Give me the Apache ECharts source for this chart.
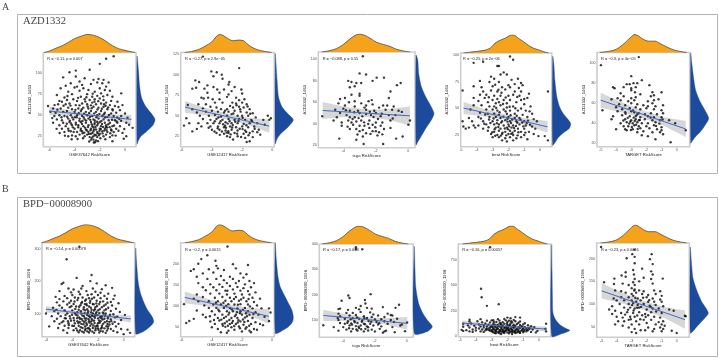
<!DOCTYPE html>
<html><head><meta charset="utf-8">
<script src="https://cdn.jsdelivr.net/npm/echarts@6/dist/echarts.min.js"></script>
<style>html,body{margin:0;padding:0;background:#fff}#c{width:719px;height:358px;filter:blur(.35px)}</style>
</head><body><div id="c"></div>
<script>
// ---------- marginal densities of the risk score, one per cohort
const gse37642TopX=[-6.4,-6,-5.5,-5,-4.5,-4,-3.5,-3,-2.5,-2,-1.5,-1,-.5,0,.5,.8];
const gse37642TopD=[0,.08,.23,.37,.56,.77,.9,1,.96,.83,.62,.38,.21,.12,.04,0];
const gse12417TopX=[-5.8,-5.35,-4.9,-4.46,-4,-3.7,-3.47,-3.25,-2.9,-2.6,-2.25,-1.9,-1.6,-1.26,-.93,-.49,-.04];
const gse12417TopD=[0,.06,.16,.35,.59,.9,1,.94,.75,.65,.69,.65,.43,.25,.14,.06,0];
const tcgaTopX=[-5.33,-4.82,-4.41,-4,-3.59,-3.28,-3.02,-2.67,-2.36,-1.95,-1.54,-1.13,-.72,-.31,.1];
const tcgaTopD=[0,.08,.19,.42,.73,.92,1,.92,.77,.54,.42,.31,.15,.06,0];
const beatTopX=[-4.84,-4.31,-3.89,-3.47,-3.15,-2.84,-2.52,-2.21,-1.89,-1.68,-1.37,-1.05,-.74,-.42,-.11,.21,.53];
const beatTopD=[0,.06,.1,.16,.27,.55,.71,.82,.98,1,.82,.63,.43,.27,.18,.08,0];
const targetTopX=[-5.07,-4.52,-4.07,-3.74,-3.41,-3.08,-2.75,-2.53,-2.2,-1.87,-1.43,-1.1,-.66,-.22,.22,.66];
const targetTopD=[0,.06,.15,.31,.54,.81,1,.92,.73,.63,.63,.5,.31,.15,.06,0];
// ---------- marginal densities of drug sensitivity
const a1RightY=[119.8,103.9,88,76,68,60,52,45,38,30,24.5,18.5,15.7];
const a1RightD=[0,.08,.13,.2,.3,.5,.8,1,.88,.5,.2,.05,0];
const a2RightY=[125.5,113.4,93,72.7,60.5,52.4,45,36,28,21.9,15.8];
const a2RightD=[0,.04,.1,.18,.38,.7,1,.7,.3,.1,0];
const a3RightY=[104,99.4,86.9,74.4,65.1,57.3,49.5,43.3,35.5,27.7,23,20];
const a3RightD=[0,.1,.15,.3,.54,.8,1,.85,.54,.27,.1,0];
const a4RightY=[99,92.7,77,61,51.7,45.4,40.6,35.9,31.2,28,23.3,18.5,15.4];
const a4RightD=[0,.06,.12,.23,.38,.58,.81,1,.92,.67,.35,.15,0];
const a5RightY=[110,100,86.6,73.3,63.3,55,45,38.3,31.6,26.6,21.6,20];
const a5RightD=[0,.06,.15,.27,.48,.73,1,.81,.54,.27,.06,0];
const b1RightY=[303,266.6,235,193.7,162.4,131,110,89.5,74,58,42.6,37.4];
const b1RightD=[0,.04,.08,.15,.27,.48,.67,.92,1,.77,.38,0];
const b2RightY=[250,210,170.5,146.7,123,107,91,75,63,51,39.5,35.5];
const b2RightD=[0,.06,.15,.27,.54,.73,.92,1,.96,.73,.29,0];
const b3RightY=[389.3,297,231.4,165.6,126,100,73.5,53.7,47];
const b3RightD=[0,.04,.08,.24,.48,.72,1,.7,0];
const b4RightY=[897,653,392,229,163,114.5,82,59,26,2];
const b4RightD=[0,.02,.04,.07,.22,.46,.74,1,.55,0];
const b5RightY=[225,194,157,128,106,80,65.4,50.7,39.7,36];
const b5RightD=[0,.06,.15,.38,.62,1,.72,.38,.15,0];
// ---------- fitted lines and their confidence bands
const a1BandX=[-6,-4.5,-3,-1.5,.5], a1Fit=[55,52.8,50.5,48.2,45], a1Lo=[50,49.8,48.3,45.2,39.5], a1Hi=[60,55.8,52.7,51.2,50.5];
const a2BandX=[-5.78,-4.4,-3,-1.6,-.2], a2Fit=[60.5,54.8,49,43.2,37.3], a2Lo=[53.5,50.3,45.5,38.7,29.3], a2Hi=[67.5,59.3,52.5,47.7,45.3];
const a3BandX=[-5.27,-4,-2.6,-1.2,.1], a3Fit=[52.3,51.1,49.8,48.5,47.3], a3Lo=[44.3,46.1,46.3,43.5,38.3], a3Hi=[60.3,56.1,53.3,53.5,56.3];
const a4BandX=[-4.84,-3.5,-2.2,-.9,.48], a4Fit=[50.4,46,41.8,37.5,32.7], a4Lo=[44.7,42.5,39.3,34.3,27.2], a4Hi=[56.1,49.5,44.3,40.7,38.2];
const a5BandX=[-5.02,-3.6,-2.2,-.8,.6], a5Fit=[63,55.8,48.7,41.5,34.3], a5Lo=[55.5,50.8,44.9,37,26.3], a5Hi=[70.5,60.8,52.5,46,42.3];
const b1BandX=[-6.05,-4.4,-2.75,-1.1,.55], b1Fit=[113.5,106,98.4,90.9,83.3], b1Lo=[103.5,99,92.9,83.9,72.3], b1Hi=[123.5,113,103.9,97.9,94.3];
const b2BandX=[-5.8,-4.4,-3,-1.6,-.2], b2Fit=[121,109.7,98.5,87.2,76], b2Lo=[107,100.7,91.5,78.2,59], b2Hi=[135,118.7,105.5,96.2,93];
const b3BandX=[-5.26,-3.9,-2.6,-1.3,.04], b3Fit=[118,110,102.3,94.5,86.6], b3Lo=[96,96,92.3,81.5,61.6], b3Hi=[140,124,112.3,107.5,111.6];
const b4BandX=[-4.85,-3.5,-2.2,-.85,.49], b4Fit=[131,116,101.5,87,72], b4Lo=[106,99,88.5,71,47], b4Hi=[156,133,114.5,103,97];
const b5BandX=[-5,-3.6,-2.2,-.85,.55], b5Fit=[129,113,97,81.6,65.5], b5Lo=[112,101,87,69.6,45.5], b5Hi=[146,125,107,93.6,85.5];
// ---------- scatter points
const a1Pts=[[-.9,120],[-1.5,117],[-2,111],[-3.9,103],[-4.4,101],[-2.8,104],[-4.9,95],[-3.2,94],[-3.9,96],[-2.5,92],[-2.1,93],[-1.7,92],[-1.3,89],[-2.2,89],[-1.8,88],[-3.6,90],[-4.3,88],[-4.7,85],[-3.4,86],[-2.7,87],[-1.5,84],[-5.1,82],[-4,83],[-3.8,84],[-3.3,82],[-2.9,80],[-2,82],[-1.6,80],[-1.2,79],[-4.5,78],[-3.6,79],[-2.4,78],[-5.4,74],[-.3,76],[-4.2,75],[-3,75],[-1.9,76],[-3.5,72],[-4.8,71],[-2.2,73],[-2.6,72],[-1.4,74],[-1,72],
[-5.2,67],[-5,66],[-4.6,68],[-4.1,69],[-3.8,67],[-3.2,69],[-2.8,68],[-2.4,69],[-2,70],[-1.7,68],[-1.1,67],[-.6,66],[-5.3,63],[-4.7,63],[-4.4,64],[-3.9,62],[-3.4,64],[-3,63],[-2.6,65],[-2.3,63],[-1.9,64],[-1.5,65],[-1.2,62],[-.8,61],[-.2,62],[-6.1,61],[-5.7,58],[-5.1,58],[-4.5,59],[-4.2,57],[-3.7,58],[-3.3,59],[-2.9,58],[-2.5,60],[-2.1,59],[-1.7,60],[-1.4,57],[-1,57],[-.4,56],[-5.9,54],[-5.5,53],[-4.9,54],[-4.6,55],[-4,54],[-3.5,55],[-3.1,54],[-2.7,55],[-2.3,54],[-1.9,55],[-1.6,53],[-1.1,52],[-.7,53],[0,52],[-5.6,49],[-5.2,50],[-4.8,49],[-4.3,50],[-3.8,50],[-3.4,49],[-3,50],[-2.6,49],[-2.2,50],[-1.8,49],[-1.4,48],[-.9,49],[-.3,49],[.2,47],[-5.4,45],[-5,44],[-4.5,46],[-4.1,45],[-3.6,46],[-3.2,45],[-2.9,46],[-2.5,45],[-2.1,46],[-1.7,45],[-1.3,44],[-.8,44],[-5.7,41],[-4.9,41],[-4.4,42],[-3.9,41],[-3.5,42],[-3.1,41],[-2.7,42],[-2.4,41],[-2,42],[-1.6,41],[-1.2,41],[-.6,41],[.1,41],[-5.2,38],[-4.7,37],[-4.2,38],[-3.7,38],[-3.3,37],[-2.9,38],[-2.6,37],[-2.2,38],[-1.9,37],[-1.5,38],[-1,37],[-.4,37],[-5,34],[-4.5,34],[-4,34],[-3.5,34],[-3.1,33],[-2.7,34],[-2.3,33],[-2,34],[-1.6,34],[-1.1,33],[-.7,34],[-4.8,30],[-4.3,31],[-3.8,30],[-3.4,31],[-2.9,30],[-2.5,31],[-2.2,30],[-1.8,31],[-1.4,30],[-.9,30],[.6,35],[-3.6,27],[-3,27],[-2.7,28],[-2.4,27],[-2,28],[-1.5,27],[-1,26],[-.2,29],[-4.5,25],[-4.2,26],[-3.9,25],[-3.2,25],[-2.8,24],[-2.5,25],[-2.2,24],[-1.7,25],[-1.2,24],[-2.7,21],[-2.5,21],[-2.3,20],[-.1,22],[-1,19],[.1,25],
[-3.83,47.6],[-3.62,43.5],[-3.41,39.7],[-3.27,47.2],[-3.08,43.6],[-2.93,35.9],[-2.78,47.8],[-2.64,39.4],[-2.51,35.6],[-2.39,43.7],[-2.27,47.5],[-2.13,40.3],[-2.02,31.6],[-1.87,43.2],[-1.74,36.1],[-1.58,47.4],[-1.46,32.3],[-1.33,39.2],[-3.71,35.7],[-3.52,31.8],[-3.36,28.6],[-3.17,35.3],[-3.02,31.9],[-2.86,27.8],[-2.73,32.2],[-2.58,28.9],[-2.46,33],[-2.34,36],[-2.17,28.6],[-2.07,26.2],[-1.92,33.7],[-1.78,28.4],[-1.63,31.7],[-1.51,36],[-1.22,35.8],[-1.08,31.8],[-.87,37.7],[-.68,42.6],[-4.13,35.6],[-4.28,40.2],[-4.07,30.2],[-4.62,39.8],[-4.37,43.6],[-3.97,47.7],[-4.18,47.4],[-4.58,48.2],[-3.66,52.4],[-3.24,51.7],[-2.84,52.6],[-2.44,52.2],[-2.03,51.6],[-1.68,51.2],[-1.27,50.4],[-.62,47.4],[-3.93,56.4],[-3.42,57.1],[-2.96,60.4],[-2.64,58.3],[-2.18,56.8],[-1.83,57.6],[-1.54,61.2],[-4.32,61.4],[-3.61,61.7],[-3.14,66.2],[-2.7,61.7],[-2.42,66.1],[-2.12,66.7],[-1.66,63],[-1.34,59.3],[-3.72,70.6],[-2.56,75.6],[-1.73,72.4],[-4.56,72.9],[-3.06,71.3],[-2.31,26.2],[-2.62,23.2],[-1.95,22.7],[-3.33,22.6],[-3.76,21.8],[-4.23,21.4],[-1.56,21.5],[-2.14,19.2],[-2.84,18.8],[-2.47,17.6],[-2.38,17.9],[-4.76,25.7],[-5.42,33.8],[-5.18,28.9],[-.52,31.6],[-.06,33.7],[-.31,43.4],[.32,38.6],[-.74,25.8],[-5.77,46.6],[-5.03,47.6],[-5.36,56.6],[-1.03,44.6],[-1.43,35.4],[-2.22,42.2],[-2.76,44.5],[-3.37,43.2],[-3.89,38.9],[-4.47,31.6],[-3.22,29.3],[-2.42,39.1],[-1.83,39.6],[-1.17,28.6],[-.46,45.8],[-.97,55.7],[-5.58,62],[-4.87,61.2],[-.52,59.7]];
const a2Pts=[[-4.6,122],[-2.2,108],[-4.04,104],[-3.68,103],[-3.35,100],[-5.1,93],[-4.85,91],[-5.3,83],[-5.05,84],[-2.85,91],[-2.9,88],[-3.9,98],[-3.3,95],[-4.3,87],[-4.5,83],[-3.9,85],[-3.65,82],[-3.2,82],[-2.5,85],[-2.05,82],[-2.7,80],[-2,77],[-4.3,78],[-3.5,78],[-2.9,76],[-4.7,72],[-4.55,71],[-4.25,72],[-3.95,70],[-3.5,70],[-3,73],[-2.4,72],[-2.2,69],[-1.85,70],[-5.6,63],[-4.9,64],[-4.4,64],[-3.8,66],[-3.3,66],[-2.65,66],[-2.4,65],[-2,66],[-1.7,64],[-2.8,62],[-5.3,58],[-4.6,59],[-4.1,61],[-3.7,60],[-3.4,58],[-3,58],[-2.6,60],[-2.2,61],[-1.9,60],[-1.5,58],[-5,54],[-4.4,55],[-4,56],[-3.6,55],[-3.2,54],[-2.9,55],[-2.5,56],[-2.1,55],[-1.7,54],[-1.3,53],[-.3,50],[-5.7,47],[-4.8,50],[-4.2,50],[-3.8,51],[-3.4,49],[-3,50],[-2.7,52],[-2.3,50],[-2,50],[-1.6,50],[-1.1,48],[-.1,47],[-5.5,41],[-4.6,46],[-4.1,45],[-3.7,46],[-3.3,45],[-2.9,46],[-2.5,45],[-2.2,46],[-1.8,45],[-1.4,45],[-.6,45],[-.2,45],[-5.85,38],[-4.9,41],[-4.3,41],[-3.9,41],[-3.5,41],[-3.1,42],[-2.7,41],[-2.3,41],[-1.9,40],[-1.5,41],[-1,41],[-.5,39],[-5.3,31],[-5,34],[-4.7,37],[-4.1,37],[-3.6,37],[-3.2,36],[-2.8,37],[-2.4,36],[-2,37],[-1.6,36],[-1.2,37],[-4,33],[-3.5,33],[-3.1,32],[-2.7,33],[-2.3,32],[-1.8,32],[-1.3,31],[-.9,33],[-3.7,29],[-3.2,28],[-2.9,29],[-2.5,29],[-1.9,28],[-1.5,29],[-1,30],[-3,25],[-2.8,24],[-2.3,25],[-1.8,23],[-1.3,24],[-.8,27],[-2.6,21],[-1.7,18],[-1.5,19],
[-3.43,43.4],[-3.26,39.6],[-3.07,35.3],[-2.96,40.4],[-2.83,43.3],[-2.62,38.6],[-2.46,42.7],[-3.81,43.2],[-3.62,34.7],[-3.34,30.8],[-3.13,37.9],[-2.92,31.2],[-2.76,27.3],[-2.33,28.2],[-2.16,34.2],[-1.97,47.6],[-1.72,38.4],[-1.34,43.2],[-1.73,30.3],[-1.17,34.2],[-4.22,35.4],[-3.83,30.8],[-3.48,26.7],[-2.58,52.8],[-2.13,57.9],[-2.37,62.8],[-1.64,61.2],[-1.47,52.4],[-3.13,56.2],[-3.57,47.9],[-2.24,43.7],[-2.66,35.6],[-3.03,29.4],[-1.58,26.3],[-1.97,33.7],[-2.07,24.2]];
const a3Pts=[[-2.8,103],[-3,87],[-2.6,86],[-3.7,80],[-3.5,79],[-3.2,78],[-2.9,78],[-3.3,75],[-3.6,74],[-1.95,83],[-1.5,83],[-2.2,80],[-.7,76],[-.47,78],[-1.1,70],[-1.2,64],[-4.2,63],[-3.9,64],[-3.5,67],[-3,68],[-3,66],[-3.65,60],[-3.3,61],[-2.25,62],[-2.45,61],[-1.55,57],[-4.3,59],[-3.9,57],[-3.3,56],[-2.9,59],[-2.6,57],[-2.2,58],[-1.8,55],[-1.3,57],[-.9,56],[-.6,52],[-4.5,53],[-4,54],[-3.6,52],[-3.1,52],[-2.7,55],[-2.6,53],[-2.1,52],[-1.4,53],[-1,53],[-.4,51],[-5.3,47],[-4.6,43],[-4.2,50],[-3.8,48],[-3.6,46],[-3.3,46],[-3,50],[-2.6,49],[-2.3,48],[-2,50],[-1.7,47],[-1.2,48],[-.8,48],[.1,43],[0,39],[-4.4,46],[-4.1,41],[-3.7,43],[-3.5,41],[-3.2,42],[-2.9,43],[-2.4,43],[-2,41],[-1.6,41],[-1.1,43],[-4.1,38],[-3.4,39],[-3,38],[-2.7,38],[-2.2,39],[-1.7,38],[-3.6,35],[-3.2,35],[-2.8,34],[-2.4,36],[-2,33],[-1.5,35],[-1.1,36],[-3,33],[-2.6,31],[-2.2,33],[-1.8,32],[-2.8,28],[-1.9,29],[-1.6,30],[-4.25,26],[-2.75,21],[-1.55,21],[-.75,26],[-.35,28],[-3.2,25],
[-3.74,37.2],[-3.43,44.3],[-2.83,46.8],[-2.47,39.6],[-1.87,44.3],[-3.06,45.2],[-2.14,46.2],[-3.84,52.6],[-2.37,51.2],[-1.63,49.4],[-.96,44.8],[-3.33,50.7],[-2.72,41.2],[-2.03,36.6],[-3.13,29.8],[-2.33,30.4]];
const a4Pts=[[-1.9,99],[-1.7,96],[-3.6,94],[-4.2,93],[-2.6,90],[-2.7,90],[-3.1,80],[-2.3,84],[-2.1,82],[-2.5,82],[-1.4,78],[-2.9,78],[-1.8,77],[-3.8,76],[-3.2,75],[-2.6,75],[-2,72],[-1.6,73],[-1.2,74],[-4.2,71],[-3.7,70],[-3,71],[-2.4,70],[-1.9,70],[-1.1,72],[.5,66],[-4.9,67],[-3.6,66],[-3.1,67],[-2.7,66],[-2.2,68],[-1.6,66],[-1.2,66],[-.7,64],[-3.8,63],[-3.4,63],[-2.9,62],[-2.5,62],[-2,62],[-1.7,63],[-1.3,62],[-.8,60],[-4.2,60],[-3.5,60],[-3,58],[-2.7,59],[-2.3,58],[-1.9,58],[-1.2,58],[-1,59],[-3.9,57],[-3.3,56],[-2.8,55],[-2.6,56],[-2.1,55],[-1.5,56],[-1,54],[-4.2,53],[-3.7,53],[-3.2,52],[-2.9,52],[-2.5,53],[-2.1,51],[-1.7,52],[-1.2,50],[-.6,52],[-4.4,49],[-3.4,49],[-3,49],[-2.7,48],[-2.3,49],[-1.9,48],[-1.4,48],[-.9,48],[-3.8,46],[-3.3,45],[-2.9,45],[-2.6,44],[-2.1,45],[-1.6,45],[-1.1,44],[-.5,45],[-4.9,38],[-4.5,41],[-3.9,42],[-3.2,42],[-2.8,42],[-2.5,41],[-2,42],[-1.6,41],[-1.3,41],[-.8,42],[-.4,40],[-4.3,38],[-3.6,38],[-3,38],[-2.7,39],[-2.4,38],[-2.2,39],[-1.9,38],[-1.5,38],[-1,38],[-.2,38],[-4.85,33],[-4.7,31],[-4.2,34],[-3.9,34],[-3.4,35],[-2.9,35],[-2.6,35],[-2.3,34],[-2,35],[-1.7,34],[-1.3,35],[-.9,34],[-.5,33],[-4.5,32],[-4.1,32],[-3.6,31],[-2.8,32],[-2.5,31],[-2.1,32],[-1.8,32],[-1.4,31],[-1,31],[-.3,31],[-3.3,29],[-2.9,28],[-2.6,29],[-2.2,28],[-1.9,29],[-1.6,29],[-1.2,28],[-.7,28],[-3.1,26],[-2.7,25],[-2.4,26],[-2,26],[-1.7,25],[-1,25],[-.4,26],[-3,23],[-2.6,23],[-2.2,22],[-1.9,23],[-1.5,22],[-1.2,23],[-.1,24],[.3,24],[-2.4,20],[-2.1,19],[-1.7,20],[-.8,21],[.5,20],
[-2.46,36.7],[-2.23,31.2],[-2.06,37.6],[-1.83,36.3],[-1.64,31.7],[-1.44,36.6],[-2.73,36.2],[-2.87,30.4],[-2.37,27.3],[-2.03,30.4],[-1.74,27.2],[-1.37,27.6],[-1.06,33.2],[-2.64,32.6],[-2.32,42.3],[-1.96,33.2],[-1.52,33.6],[-1.13,36.8],[-.84,36.3],[-2.56,46.4],[-2.18,47.3],[-1.86,43.7],[-1.47,43.2],[-2.94,40.6],[-3.14,36.4],[-3.26,32.3],[-3.47,44.3],[-2.77,50.4],[-2.34,54.3],[-1.92,51.6],[-1.56,50.3],[-.76,38.6],[-.63,34.8],[-3.02,27.6],[-2.48,24.4],[-2.14,24.7],[-1.83,26.1],[-1.42,24.7],[-.93,27.3],[-2.84,24.3],[-3.22,39.6],[-3.53,35.6],[-3.74,40.6],[-2.06,40.3],[-1.76,39.6],[-1.23,39.3],[-.66,47.3],[-2.63,67.6],[-2.44,64.8],[-2.17,60.3],[-1.44,60.8],[-3.24,60.6],[-2.84,72.4],[-1.34,69.3]];
const a5Pts=[[-5,98],[-2.5,106],[-3,87],[-2.85,80],[-2.6,80],[-2.3,83],[-3.1,79],[-3.5,76],[-3.3,79],[-3,75],[-2.7,76],[-4.2,76],[-4.1,75],[-1.8,78],[-3,73],[-2.75,71],[-1.6,71],[-1,71],[-3.7,70],[-1.5,68],[-1.7,67],[-3.9,65],[-3.5,67],[-3,65],[-2.7,66],[-2.4,69],[-1.5,63],[-1.2,64],[-4.3,64],[-3.7,63],[-3.2,62],[-2.8,63],[-1.9,62],[-1.6,60],[-3.8,59],[-3.4,58],[-3,60],[-2.6,59],[-2.2,58],[-1.9,57],[-1.4,57],[-.9,58],[-4.9,53],[-4,56],[-3.6,54],[-3.1,55],[-2.7,56],[-2.4,54],[-2,55],[-1.5,54],[-1,53],[-3.9,52],[-3.4,51],[-3,52],[-2.8,51],[-2.5,50],[-2.1,49],[-1.7,50],[-1.3,49],[-.9,50],[-4.2,47],[-3.6,48],[-3.1,47],[-2.7,47],[-2.4,46],[-1.9,47],[-1.5,46],[-1,46],[-4.3,44],[-3.4,44],[-3,43],[-2.7,44],[-2.5,43],[-2.1,44],[-1.6,43],[-1.1,43],[-.5,43],[-3.7,40],[-3.3,41],[-2.9,40],[-2.6,41],[-2.3,40],[-1.9,40],[-1.4,41],[-.1,40],[-3.5,37],[-3.2,37],[-2.8,38],[-2.5,37],[-2,37],[-1.5,38],[-1,36],[-3.4,34],[-2.9,34],[-2.4,35],[-1.8,35],[-1.3,34],[-1,33],[.6,33],[-4,34],[-3.3,33],[-2.6,31],[-2.2,32],[-1.6,31],[-1.1,31],[-2.3,28],[-1.9,27],[-.9,29],[-1.4,24],[-.4,21],
[-2.84,45.6],[-2.62,48.7],[-2.96,36.2],[-3.13,39.7],[-2.68,38.6],[-3.23,45.4],[-3.52,42.7],[-2.88,52.8],[-2.43,43.3],[-2.57,34.2],[-3.06,41.8],[-3.37,49.4],[-1.36,37.3],[-1.14,39.6],[-2.77,42.2],[-3.02,33.2],[-1.72,45.6],[-.93,43.7]];
const b1Pts=[[-3.45,308],[-4.44,269],[-2.5,220],[-3.66,211],[-4.7,196],[-4.83,192],[-2.6,201],[-6.05,100],[-3.2,186],[-2.1,194],[-1.4,188],[-.9,180],[-1.7,176],[-2.4,178],[-3.3,178],[-3.9,175],[-4.3,178],[-5,170],[-4.1,166],[-3.5,168],[-2.9,170],[-2.2,168],[-1.8,165],[-1.2,162],[-5.3,152],[-4.6,155],[-4,158],[-3.4,160],[-2.8,158],[-2.5,160],[-2,158],[-1.5,155],[-.7,156],[-5,145],[-4.4,148],[-3.8,150],[-3.2,150],[-2.7,148],[-2.3,150],[-1.8,148],[-1.3,146],[-.8,145],[-5.2,135],[-4.7,138],[-4.1,140],[-3.6,142],[-3,140],[-2.6,140],[-2.1,140],[-1.6,138],[-1,136],[-.4,132],[-5,125],[-4.4,128],[-3.9,130],[-3.3,132],[-2.9,130],[-2.4,130],[-1.9,130],[-1.4,128],[-.9,125],[-5.5,118],[-4.8,118],[-4.2,120],[-3.7,122],[-3.1,120],[-2.7,122],[-2.2,120],[-1.7,120],[-1.2,118],[-.6,115],[-5.4,108],[-4.6,110],[-4,110],[-3.5,112],[-3,110],[-2.5,112],[-2,110],[-1.5,110],[-1,108],[-.3,105],[-5.1,100],[-4.4,100],[-3.8,102],[-3.3,100],[-2.8,102],[-2.4,100],[-1.9,102],[-1.4,100],[-.8,98],[.1,96],[-5.6,92],[-4.9,92],[-4.2,92],[-3.6,94],[-3.1,92],[-2.7,92],[-2.2,94],[-1.7,92],[-1.2,90],[-.5,90],[-5.2,84],[-4.5,85],[-3.9,86],[-3.4,84],[-2.9,85],[-2.5,84],[-2,85],[-1.5,84],[-1,82],[-.2,80],[-5.4,76],[-4.7,76],[-4.1,78],[-3.6,76],[-3.2,78],[-2.7,76],[-2.3,78],[-1.8,76],[-1.3,76],[-.7,74],[-5,68],[-4.3,70],[-3.8,70],[-3.3,68],[-2.9,70],[-2.5,68],[-2,70],[-1.6,68],[-1.1,66],[-.4,68],[-5.8,60],[-4.6,62],[-4,62],[-3.5,62],[-3,60],[-2.6,62],[-2.2,60],[-1.7,62],[-1.2,60],[-.6,60],[-5.1,55],[-4.3,55],[-3.7,54],[-3.2,55],[-2.8,54],[-2.4,55],[-2,54],[-1.5,54],[-1,52],[-.2,52],[-4.7,48],[-3.9,48],[-3.4,48],[-3,48],[-2.6,47],[-2.2,48],[-1.8,46],[-1.3,47],[-.8,46],[.3,50],[-4.4,40],[-3.5,42],[-3.1,41],[-2.7,41],[-2.3,40],[-1.9,41],[-1.4,40],[-.5,42],[0,36],[.5,40],
[-3.73,96.6],[-3.47,88.3],[-3.22,93.7],[-3.03,85.6],[-2.84,95.7],[-2.62,89.2],[-2.43,79.6],[-2.24,86.7],[-2.04,95.2],[-1.83,88.4],[-1.64,81.3],[-1.44,93.6],[-1.24,84.6],[-3.86,78.4],[-3.53,70.6],[-3.27,83.4],[-3.07,73.6],[-2.87,64.3],[-2.66,71.7],[-2.47,93.2],[-2.27,70.8],[-2.06,63.4],[-1.87,71.6],[-1.68,56.7],[-1.47,73.2],[-1.26,67.3],[-4.16,84.6],[-4.34,76.3],[-4.02,96.4],[-3.61,104.2],[-3.33,107.6],[-3.04,101.3],[-2.76,107.4],[-2.53,104.3],[-2.31,109.7],[-2.11,104.6],[-1.86,113.6],[-1.63,103.7],[-1.37,113.3],[-1.06,96.3],[-3.77,114.6],[-3.47,121.3],[-3.12,113.4],[-2.87,125.6],[-2.56,118.4],[-2.33,128.7],[-2.07,123.4],[-1.83,136.4],[-1.54,124.3],[-1.26,133.6],[-3.24,136.4],[-2.93,143.7],[-2.46,146.4],[-2.13,131.6],[-3.54,148.3],[-4.23,133.7],[-3.83,137.6],[-2.73,55.6],[-3.34,57.6],[-2.37,62.8],[-1.96,49.6],[-1.62,44.3],[-2.97,52.6],[-3.62,47.3],[-2.43,43.7],[-2.04,60.7],[-1.23,53.4],[-3.13,66.7],[-4.27,64.6],[-4.58,85.7],[-4.82,72.6],[-.86,68.3],[-.67,88.3],[-.96,76.4],[-3.23,43.8],[-2.83,44.7],[-2.64,51.3],[-2.18,53.3],[-1.76,53.6],[-1.34,60.3],[-3.42,73.6],[-2.73,82.7],[-2.17,100.6],[-1.57,100.4],[-3.62,85.7],[-2.96,78.6],[-3.87,61.6],[-1.73,85.6],[-2.53,75.6],[-2.32,91.4],[-1.92,78.6],[-1.12,74.3],[-2.84,113.4],[-2.24,113.6],[-3.37,125.7],[-2.63,133.6],[-4.53,95.3],[-5.24,111.6],[-4.07,122.6],[-3.03,129.4]];
const b2Pts=[[-2.96,242],[-4.3,221],[-4.7,212],[-3.76,208],[-4.9,201],[-3.7,196],[-2.6,200],[-1.6,198],[-5.2,188],[-5.4,184],[-4.2,188],[-3.6,190],[-3.2,186],[-2.4,190],[-2.1,178],[-1.7,176],[-4.6,178],[-3.9,180],[-5,170],[-3.4,172],[-2.8,170],[-1.9,168],[-4.3,165],[-3.7,165],[-3.2,162],[-2.6,165],[-2.2,160],[-1.5,160],[-4.9,155],[-4.1,152],[-3.5,152],[-3,155],[-2.4,155],[-1.8,152],[-1.2,155],[-4.6,145],[-3.9,145],[-3.3,146],[-2.8,148],[-2.3,146],[-1.9,143],[-1.4,145],[-4.4,138],[-3.7,138],[-3.1,137],[-2.6,140],[-2.1,137],[-1.6,136],[-1.1,133],[-5,128],[-4.1,130],[-3.5,130],[-3,128],[-2.5,130],[-2,128],[-1.5,128],[-5.2,118],[-4.6,122],[-3.8,120],[-3.3,122],[-2.8,120],[-2.4,122],[-1.9,120],[-1.3,120],[-.8,118],[-4.9,112],[-4.2,112],[-3.6,112],[-3.1,113],[-2.7,112],[-2.2,113],[-1.7,112],[-1.2,110],[-5.85,105],[-4.5,102],[-3.9,104],[-3.4,104],[-2.9,105],[-2.5,104],[-2.1,105],[-1.6,104],[-1,102],[-4.2,96],[-3.7,96],[-3.2,96],[-2.8,96],[-2.3,95],[-1.8,96],[-1.3,95],[-.7,95],[-.2,95],[-5,90],[-4,88],[-3.5,88],[-3,88],[-2.6,88],[-2.1,88],[-1.6,88],[-1.1,86],[-4.6,80],[-3.8,80],[-3.3,80],[-2.9,80],[-2.4,80],[-2,80],[-1.5,80],[-.9,80],[-.1,85],[-5.2,70],[-4.4,74],[-3.6,72],[-3.2,72],[-2.7,72],[-2.3,72],[-1.8,73],[-1.3,72],[-.5,75],[-4.1,64],[-3.5,66],[-3,64],[-2.6,65],[-2.1,64],[-1.6,65],[-1.1,62],[-5.7,60],[-5.5,65],[-3.8,58],[-3.3,58],[-2.8,58],[-2.4,58],[-1.9,56],[-1.4,58],[-.8,58],[-.2,65],[-4,50],[-3.6,46],[-3.1,51],[-2.7,50],[-2.2,52],[-1.7,50],[-1.2,46],[-.6,55],[-3.4,38],[-2.9,42],[-2.5,44],[-2,40],[-1.5,42],[-1,44],[-3,37],[-1.4,38],
[-3.37,68.2],[-3.06,75.4],[-2.84,67.3],[-2.47,76.4],[-2.23,66.7],[-1.93,68.6],[-1.67,76.2],[-3.14,59.7],[-2.66,60.4],[-2.28,61.3],[-1.84,62.4],[-1.52,53.7],[-3.27,53.8],[-2.93,53.7],[-2.51,53.2],[-2.13,47.8],[-1.76,46.4],[-3.57,91.6],[-3.04,100.4],[-2.67,92.6],[-2.27,103.6],[-1.93,91.4],[-1.47,99.6],[-1.24,81.6],[-2.84,84.6],[-2.13,83.6],[-1.73,83.2],[-3.23,108.4],[-2.53,117.3],[-2.06,116.2],[-1.56,117.3],[-2.97,136.7],[-3.73,108.2],[-4.13,76.3],[-3.86,67.4],[-2.33,85.7]];
const b3Pts=[[-3.2,387],[-2.8,379],[-3.2,379],[-2.27,202],[-3.68,197],[-3.6,187],[-4.1,176],[-2.63,179],[-.48,160],[-1.5,151],[-.7,148],[-2.6,165],[-2.9,155],[-3.2,148],[-2.5,148],[-4.3,143],[-4.2,145],[-3.7,140],[-3,142],[-2.2,145],[-1.2,125],[-1,120],[-4.3,125],[-3.8,128],[-3.4,128],[-2.9,132],[-2.3,130],[-2.1,122],[-1.8,118],[-4.2,115],[-3.6,118],[-3.2,120],[-2.7,115],[-2.2,112],[-1.4,112],[-.9,118],[-4.35,108],[-3.9,105],[-3.4,107],[-3,105],[-2.5,108],[-2,102],[-1.6,103],[-1,100],[-.6,105],[-4.3,100],[-3.7,95],[-3.3,96],[-2.8,98],[-2.4,96],[-1.9,92],[-1.4,95],[-.8,92],[-5.26,79],[-4.6,72],[-4.2,88],[-3.9,85],[-3.5,86],[-3.1,88],[-2.7,85],[-2.3,85],[-1.8,82],[-1.2,85],[-.3,82],[.03,90],[-4,72],[-3.6,78],[-3.2,76],[-2.9,78],[-2.5,75],[-2.1,78],[-1.6,75],[-.9,72],[-.4,78],[-4.3,58],[-3.8,62],[-3.4,65],[-3,68],[-2.6,65],[-2.2,62],[-1.7,65],[-1.3,58],[-3.5,55],[-3.1,58],[-2.7,55],[-2,55],[-1.5,50],[-1.4,55],[-.75,52],[-.1,56],
[-3.44,81.6],[-3.27,91.4],[-3.03,73.6],[-2.83,92.6],[-2.62,83.4],[-2.43,71.6],[-2.23,93.4],[-3.63,67.3],[-3.17,62.4],[-2.87,63.7],[-2.43,58.6],[-3.74,88.6],[-3.53,103.4],[-2.67,107.3],[-1.73,87.6],[-3.13,110.4]];
const b4Pts=[[-3.1,875],[-3.67,467],[-3.63,385],[-3.3,300],[-2.55,317],[-1.5,190],[-1.2,185],[-2,185],[-1.8,178],[-3.7,170],[-4.4,165],[-2.6,170],[-2.2,172],[-2.9,160],[-1.6,162],[-4.4,148],[-3.9,150],[-3.3,155],[-3,158],[-2.5,155],[-2.1,158],[-1.9,155],[-1.5,150],[-1.2,148],[-3.6,140],[-3.1,138],[-2.7,142],[-2.3,140],[-2,142],[-1.7,138],[-1.3,135],[-.9,130],[.45,125],[-4.8,125],[-4.3,128],[-3.4,128],[-2.9,125],[-2.5,128],[-2.2,125],[-1.8,128],[-1.4,122],[-1,118],[-3.8,118],[-3.2,115],[-2.8,115],[-2.4,118],[-2,115],[-1.6,115],[-1.2,112],[-.7,110],[-4.5,108],[-4.1,105],[-3.5,108],[-3,105],[-2.6,105],[-2.3,108],[-1.9,105],[-1.5,105],[-1.1,102],[-.5,100],[-4.8,95],[-3.7,98],[-3.3,98],[-2.8,95],[-2.5,98],[-2.1,95],[-1.7,95],[-1.3,92],[-.9,92],[-.3,92],[-4.4,88],[-4,85],[-3.5,88],[-3.1,85],[-2.7,88],[-2.4,85],[-2,88],[-1.6,85],[-1.2,85],[-.8,82],[-3.8,78],[-3.2,78],[-2.9,78],[-2.6,75],[-2.2,78],[-1.8,78],[-1.4,75],[-1,78],[-.6,75],[.4,75],[-4.9,65],[-4.6,62],[-4.2,68],[-3.6,68],[-3.3,68],[-3,65],[-2.7,68],[-2.3,65],[-2,68],[-1.7,65],[-1.3,68],[-.9,65],[-.4,68],[-4,58],[-3.4,60],[-3.1,58],[-2.8,58],[-2.5,58],[-2.1,58],[-1.9,60],[-1.5,58],[-1.1,58],[-.7,60],[-4.8,55],[-4.4,50],[-3.7,50],[-3,50],[-2.7,48],[-2.4,50],[-2.2,48],[-1.8,50],[-1.6,48],[-1.2,50],[-.8,50],[-.1,55],[-4.2,45],[-3.5,45],[-2.9,42],[-2.6,40],[-2.3,42],[-2,40],[-1.7,42],[-1.4,40],[-1,42],[-.5,45],[.45,50],[-2.8,35],[-2.5,32],[-2.2,34],[-1.9,32],[-1.5,34],[-1.2,35],[-.2,40],[-2.4,25],[-1.7,25],
[-2.86,71.6],[-2.63,82.4],[-2.46,64.7],[-2.27,53.6],[-2.07,73.4],[-1.86,46.6],[-1.67,58.4],[-1.47,67.2],[-2.73,55.7],[-2.52,47.2],[-2.14,52.4],[-1.94,81.6],[-1.74,72.6],[-1.54,91.6],[-2.94,92.3],[-2.33,97.2],[-1.84,112.4],[-2.63,113.7],[-3.16,62.4],[-2.96,53.7],[-1.34,53.2],[-1.06,66.2],[-2.36,72.6],[-2.17,89.6],[-1.63,103.4],[-1.04,87.4],[-.76,66.4],[-.62,83.2],[-3.34,76.2],[-3.04,96.4],[-2.43,131.4],[-2.04,126.4],[-1.76,148.6],[-2.86,141.4],[-2.22,44.2],[-1.92,64.8],[-1.53,43.6],[-2.74,31.6],[-1.28,44.4],[-.96,53.2]];
const b5Pts=[[-5.04,226],[-2.82,220],[-2.96,210],[-3.33,201],[-2.8,204],[-1.67,210],[-1.78,199],[-2.8,190],[-1.6,188],[-4.84,148],[-3.67,163],[-4.15,156],[-4.18,144],[-.93,156],[-3.4,170],[-2.9,175],[-2.3,178],[-1.7,172],[-1.6,165],[-2.85,165],[-3.4,160],[-2.8,155],[-2.2,158],[-1.7,155],[-2.9,148],[-2.5,150],[-3.6,145],[-3.2,142],[-2.8,142],[-1.6,145],[-4.1,130],[-3.7,128],[-3,135],[-2.8,132],[-2.5,130],[-2.2,128],[-1.5,130],[-1.1,128],[-3.4,125],[-3,122],[-2.7,125],[-2.3,122],[-1.9,120],[-1.4,122],[-1,118],[-3.7,115],[-3.2,115],[-2.9,118],[-2.6,112],[-2,115],[-1.6,112],[-1.1,110],[-4.2,112],[-4,108],[-3.5,108],[-3,108],[-2.7,105],[-2.4,108],[-1.9,105],[-1.5,105],[-1,105],[-4.3,95],[-3.8,100],[-3.2,100],[-2.9,102],[-2.6,98],[-2.2,100],[-1.8,96],[-1.4,98],[-.9,95],[-.5,88],[-4.5,88],[-4.1,85],[-3.5,92],[-3.1,92],[-2.8,90],[-2.5,92],[-2,88],[-1.6,90],[-1.2,90],[-.2,85],[-4.3,78],[-3.7,80],[-3.3,82],[-2.9,80],[-2.5,82],[-2.1,78],[-1.7,82],[-1,80],[.6,73],[-4,72],[-3.6,70],[-3.1,72],[-2.8,72],[-2.3,75],[-1.9,75],[-1.5,72],[-1.1,70],[-3.9,62],[-3.5,62],[-3.2,65],[-2.7,62],[-2.2,65],[-1.7,65],[-1.2,60],[-.9,62],[.55,74],[-4.1,55],[-3.6,52],[-3,55],[-2.5,55],[-2,58],[-1.4,55],[-1,55],[-.8,52],[-3.2,48],[-2.8,45],[-2.4,42],[-1.9,48],[-1.5,45],[-1.1,48],[-.9,45],[-3,38],[-2.7,36],[-2.1,42],[-1.6,40],[-1,40],[-.33,41],[0,36],
[-2.87,85.6],[-2.63,74.6],[-3.06,66.4],[-2.43,66.3],[-1.73,93.6],[-2.76,113.7],[-2.97,97.6],[-2.83,129.6],[-2.64,91.7],[-2.37,93.6],[-3.24,87.3],[-3.44,76.6],[-1.37,83.4],[-2.07,71.4],[-1.83,108.6],[-2.24,113.7]];
// ---------- tick labels, titles and notes
const ticksX6=[-6,-4,-2,0], ticksX5=[-5,-4,-3,-2,-1,0], ticksX4=[-4,-2,0];
const ticksA1Y=[25,50,75,100], ticksA2Y=[25,50,75,100,125], ticksA3Y=[20,40,60,80,100], ticksA4Y=[25,50,75,100], ticksA5Y=[20,40,60,80,100];
const ticksB1Y=[100,200,300], ticksB2Y=[50,100,150,200], ticksB3Y=[100,200,300,400], ticksB4Y=[0,250,500,750], ticksB5Y=[50,100,150,200];
const cohortNames=['GSE37642 RiskScore','GSE12417 RiskScore','tcga RiskScore','beat RiskScore','TARGET RiskScore'];
const drugNames=['AZD1332_1463','BPD\u221200008900_1998'];
const notes=['R = \u22120.11, p = 0.007','R = \u22120.27, p = 2.9e\u221205','R = \u22120.088, p = 0.55','R = \u22120.25, p = 2e\u221206','R = \u22120.3, p = 4e\u221205',
 'R = \u22120.14, p = 0.00078','R = \u22120.2, p = 0.0015','R = \u22120.17, p = 0.033','R = \u22120.16, p = 0.00057','R = \u22120.23, p = 0.0016'];

// ---------- layout (pixels): scatter frame left,right,top,bottom and note anchor
const layout=[[43.3,136,52.5,146.7,47.3,59.3],[180.7,274.3,52.5,146.7,185,59],[318.3,415,52,147.7,322.7,58.7],[460.7,551.7,53,146.7,463,59],[597,689.7,52.5,146.7,601,59.3],
 [42,134.7,242.7,336.7,46,249.3],[180.7,274.3,242.7,336.7,185,250],[319.3,413.3,244,337.3,323,250],[458.3,550.7,244,336.7,462.3,250],[596.7,689.3,243,337.3,601,249.7]];
const ranges=[[-6.475,.87,12.6,124.5],[-6.07,.13,12.3,127],[-5.54,.41,17.5,107],[-5.02,.74,14,102.3],[-5.26,.86,16.6,110.6],
 [-6.36,.86,28,320.6],[-6.07,.15,27.6,251],[-5.51,.42,31.7,400],[-5.11,.74,-2,906],[-5.33,.84,26.5,234.6]];

const topSets=[[gse37642TopX,gse37642TopD],[gse12417TopX,gse12417TopD],[tcgaTopX,tcgaTopD],[beatTopX,beatTopD],[targetTopX,targetTopD]];
const table=[
 [a1Pts,a1RightY,a1RightD,a1BandX,a1Fit,a1Lo,a1Hi,ticksX6,ticksA1Y],[a2Pts,a2RightY,a2RightD,a2BandX,a2Fit,a2Lo,a2Hi,ticksX6,ticksA2Y],
 [a3Pts,a3RightY,a3RightD,a3BandX,a3Fit,a3Lo,a3Hi,ticksX4,ticksA3Y],[a4Pts,a4RightY,a4RightD,a4BandX,a4Fit,a4Lo,a4Hi,ticksX5,ticksA4Y],
 [a5Pts,a5RightY,a5RightD,a5BandX,a5Fit,a5Lo,a5Hi,ticksX5,ticksA5Y],
 [b1Pts,b1RightY,b1RightD,b1BandX,b1Fit,b1Lo,b1Hi,ticksX6,ticksB1Y],[b2Pts,b2RightY,b2RightD,b2BandX,b2Fit,b2Lo,b2Hi,ticksX6,ticksB2Y],
 [b3Pts,b3RightY,b3RightD,b3BandX,b3Fit,b3Lo,b3Hi,ticksX4,ticksB3Y],[b4Pts,b4RightY,b4RightD,b4BandX,b4Fit,b4Lo,b4Hi,ticksX5,ticksB4Y],
 [b5Pts,b5RightY,b5RightD,b5BandX,b5Fit,b5Lo,b5Hi,ticksX5,ticksB5Y]];

function polygon(axis,pts,style,z,smooth){
  return {type:'custom',xAxisIndex:axis,yAxisIndex:axis,data:pts,encode:{x:0,y:1},silent:true,clip:false,z,
    renderItem:(p,api)=>p.dataIndex===0?{type:'polygon',shape:{points:pts.map(q=>api.coord(q)),smooth:smooth||0},style}:null};
}
const W=719,H=358,TOPH=18,RIGHTW=18;
const grid=[],xAxis=[],yAxis=[],series=[],graphic=[];
const frameStyle={stroke:'#b4b4b4',fill:'none',lineWidth:1};
[[17,14,700,159],[17,197,700,159]].forEach(r=>graphic.push({type:'rect',silent:true,shape:{x:r[0]+.5,y:r[1]+.5,width:r[2],height:r[3]},style:frameStyle,z:-1}));
const serif='"Liberation Serif","Times New Roman",serif';
[['A',2,2,10],['B',2,184,10],['AZD1332',23,16,10.6],['BPD\u221200008900',23,199,10.6]].forEach(t=>graphic.push({type:'text',silent:true,style:{text:t[0],x:t[1],y:t[2],fontFamily:serif,fontSize:t[3],fill:'#444'}}));
const hiddenAxis=(i,extra)=>Object.assign({gridIndex:i,type:'value',show:false,splitLine:{show:false}},extra);
table.forEach((row,i)=>{
  const [pts,rY,rD,bX,fit,lo,hi,tx,ty]=row, L=layout[i], R=ranges[i], c=i%5, a=3*i;
  const axisText={fontSize:3.6,color:'#4d4d4d',margin:1.6,fontFamily:'"Liberation Sans",Arial,sans-serif'};
  const nameText={fontSize:4.2,color:'#222',fontFamily:'"Liberation Sans",Arial,sans-serif'};
  const frame={show:true,left:L[0],top:L[2],width:L[1]-L[0],height:L[3]-L[2],borderColor:'#cdcdcd',borderWidth:1.6,backgroundColor:'#fff',z:1};
  grid.push(frame);
  grid.push({left:L[0],top:L[2]-TOPH,width:L[1]-L[0],height:TOPH});
  grid.push({left:L[1]+1,top:L[2],width:RIGHTW,height:L[3]-L[2]});
  xAxis.push({gridIndex:a,type:'value',min:R[0],max:R[1],name:cohortNames[c],nameLocation:'middle',nameGap:6.5,nameTextStyle:nameText,
    axisLine:{show:false},axisTick:{show:true,length:1,lineStyle:{color:'#888',width:.4},customValues:tx},axisLabel:Object.assign({customValues:tx},axisText),
    splitLine:{show:true,lineStyle:{color:'#ececec',width:.6}}});
  yAxis.push({gridIndex:a,type:'value',min:R[2],max:R[3],name:drugNames[i<5?0:1],nameLocation:'middle',nameGap:10,nameTextStyle:nameText,
    axisLine:{show:false},axisTick:{show:true,length:1,lineStyle:{color:'#888',width:.4},customValues:ty},axisLabel:Object.assign({customValues:ty},axisText),
    splitLine:{show:true,lineStyle:{color:'#ececec',width:.6}}});
  xAxis.push(hiddenAxis(a+1,{min:R[0],max:R[1]})); yAxis.push(hiddenAxis(a+1,{min:0,max:1}));
  xAxis.push(hiddenAxis(a+2,{min:0,max:1})); yAxis.push(hiddenAxis(a+2,{min:R[2],max:R[3]}));
  // confidence band, points, fitted line
  const band=bX.map((x,k)=>[x,hi[k]]).concat(bX.map((x,k)=>[x,lo[k]]).reverse());
  series.push(polygon(a,band,{fill:'rgba(150,150,150,.38)'},3));
  series.push({type:'scatter',xAxisIndex:a,yAxisIndex:a,data:pts,symbol:'circle',symbolSize:2.4,itemStyle:{color:'#0a0a0a'},silent:true,clip:false,z:4});
  series.push({type:'line',xAxisIndex:a,yAxisIndex:a,data:bX.map((x,k)=>[x,fit[k]]),symbol:'none',silent:true,lineStyle:{color:'#4169c4',width:1},z:5});
  // marginal densities
  const [tX,tD]=topSets[c];
  series.push({type:'line',xAxisIndex:a+1,yAxisIndex:a+1,data:tX.map((x,k)=>[x,tD[k]]),smooth:.3,symbol:'none',silent:true,lineStyle:{color:'#4a4a4a',width:.8},itemStyle:{color:'#f5a31a'},areaStyle:{color:'#f5a31a',opacity:1},z:2});
  series.push(polygon(a+2,rY.map((y,k)=>[rD[k],y]),{fill:'#1c4a9c',stroke:'#2b4a80',lineWidth:.4},2,.25));
  graphic.push({type:'text',silent:true,z:10,style:{text:notes[i],x:L[4],y:L[5],verticalAlign:'middle',fontFamily:'"Liberation Sans",Arial,sans-serif',fontSize:3.9,fill:'#222'}});
});
const chart=echarts.init(document.getElementById('c'),null,{width:W,height:H,renderer:'canvas'});
chart.setOption({animation:false,backgroundColor:'#fff',grid,xAxis,yAxis,series,graphic,tooltip:{show:false},legend:{show:false}});
</script></body></html>
